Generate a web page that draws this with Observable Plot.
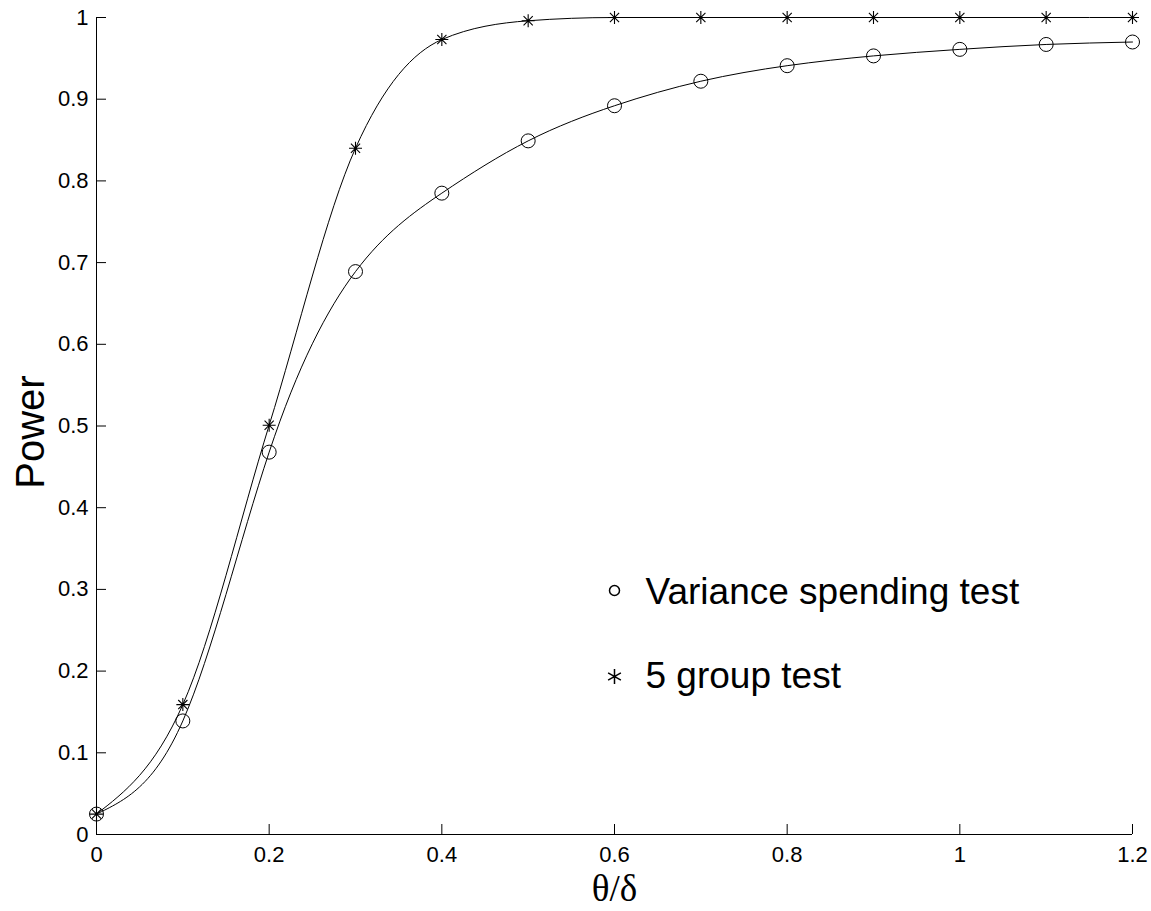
<!DOCTYPE html>
<html><head><meta charset="utf-8">
<script src="https://cdn.jsdelivr.net/npm/d3@7"></script>
<script src="https://cdn.jsdelivr.net/npm/@observablehq/plot@0.6"></script>
<style>body{margin:0;background:#fff} svg{display:block}</style>
</head><body><div id="chart"></div>
<script>
const theta = [0, 0.1, 0.2, 0.3, 0.4, 0.5, 0.6, 0.7, 0.8, 0.9, 1.0, 1.1, 1.2];
const varianceSpending = [0.025, 0.139, 0.468, 0.689, 0.785, 0.849, 0.892, 0.922, 0.941, 0.953, 0.961, 0.967, 0.970];
const fiveGroup = [0.025, 0.159, 0.501, 0.840, 0.973, 0.996, 1.0, 1.0, 1.0, 1.0, 1.0, 1.0, 1.0];
const xTicks = [0, 0.2, 0.4, 0.6, 0.8, 1, 1.2];
const yTicks = [0, 0.1, 0.2, 0.3, 0.4, 0.5, 0.6, 0.7, 0.8, 0.9, 1];
const legendLabels = ["Variance spending test", "5 group test"];
const xLabel = "θ/δ";
const yLabel = "Power";

const rows = theta.map((x, i) => ({x, v: varianceSpending[i], f: fiveGroup[i]}));

const asterisk8 = {
  draw(ctx, size) {
    const r = Math.sqrt(size / Math.PI), d = r * Math.SQRT1_2;
    ctx.moveTo(0, -r); ctx.lineTo(0, r);
    ctx.moveTo(-r, 0); ctx.lineTo(r, 0);
    ctx.moveTo(-d, -d); ctx.lineTo(d, d);
    ctx.moveTo(-d, d); ctx.lineTo(d, -d);
  }
};

const W = 1151, H = 911, mL = 96, mR = 19, mT = 17, mB = 77;
const plotW = W - mL - mR, plotH = H - mT - mB;
const fmt = d => String(d);

const chart = Plot.plot({
  width: W, height: H,
  marginLeft: mL, marginRight: mR, marginTop: mT, marginBottom: mB,
  style: {fontFamily: "'Liberation Sans', Arial, sans-serif", fontSize: "22px", color: "black", background: "white"},
  x: {domain: [0, 1.2]},
  y: {domain: [0, 1]},
  marks: [
    Plot.axisX(xTicks, {tickSize: 0, tickPadding: 12, tickFormat: fmt, label: null, fontSize: 22}),
    Plot.axisY(yTicks, {tickSize: 0, tickPadding: 8, tickFormat: fmt, label: null, fontSize: 22}),
    Plot.tickX(xTicks, {x: d => d, insetTop: plotH - 10, stroke: "black"}),
    Plot.tickY(yTicks, {y: d => d, insetRight: plotW - 10, stroke: "black"}),
    Plot.ruleX([0], {stroke: "black"}),
    Plot.ruleY([0], {stroke: "black"}),
    Plot.line(rows, {x: "x", y: "v", curve: "natural", stroke: "black", strokeWidth: 1}),
    Plot.line(rows, {x: "x", y: "f", curve: "monotone-x", stroke: "black", strokeWidth: 1}),
    Plot.dot(rows, {x: "x", y: "v", r: 7, symbol: "circle", stroke: "black", fill: "none", strokeWidth: 1}),
    Plot.dot(rows, {x: "x", y: "f", r: 6.5, symbol: asterisk8, stroke: "black", fill: "none", strokeWidth: 1.1}),
    Plot.dot([0], {x: null, y: null, frameAnchor: "top-left", dx: 518, dy: 573, r: 5, symbol: "circle", stroke: "black", fill: "none"}),
    Plot.dot([0], {x: null, y: null, frameAnchor: "top-left", dx: 518, dy: 659, r: 7, symbol: "asterisk", stroke: "black", fill: "none"}),
    ...legendLabels.map((label, i) => Plot.text([label], {x: null, y: null, text: d => d, frameAnchor: "top-left", dx: 549, dy: 575 + i * 84, textAnchor: "start", lineAnchor: "middle", fontSize: 37, fill: "black"})),
    Plot.text([yLabel], {x: null, y: null, text: d => d, frameAnchor: "left", dx: -53, dy: 6, rotate: -90, textAnchor: "middle", lineAnchor: "bottom", fontSize: 40, fill: "black"}),
    Plot.text([xLabel], {x: null, y: null, text: d => d, frameAnchor: "bottom", dy: 66, textAnchor: "middle", lineAnchor: "bottom", fontSize: 37, fontFamily: "'Liberation Serif', 'DejaVu Serif', serif", fill: "black"})
  ]
});
document.getElementById("chart").appendChild(chart);
</script>
</body></html>
